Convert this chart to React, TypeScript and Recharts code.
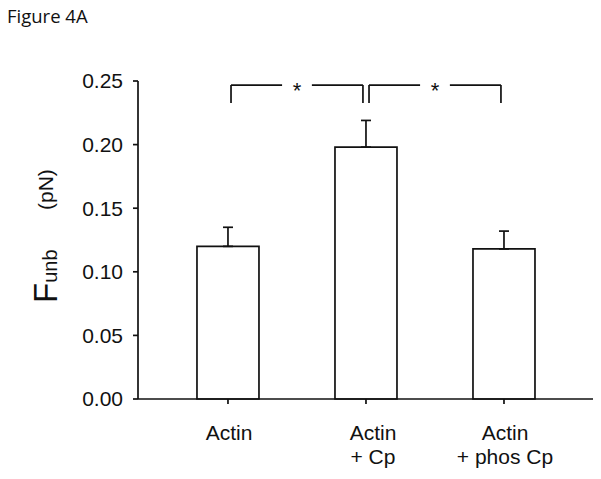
import React from 'react';
import {
  ComposedChart,
  Bar,
  XAxis,
  YAxis,
  ErrorBar,
  ReferenceLine,
  ReferenceDot,
} from 'recharts';

// ---- data ----
const categories = ['Actin', 'Actin\n+ Cp', 'Actin\n+ phos Cp'];
const positions = [1, 2, 3];
const meanValues = [0.12, 0.198, 0.118];
const errorValues = [0.015, 0.021, 0.014];
const yTicks = [0, 0.05, 0.1, 0.15, 0.2, 0.25];
// significance comparisons (by category position)
const sigPairs: [number, number][] = [
  [1, 2],
  [2, 3],
];
const sigLabels = ['*', '*'];
const bracketTop = 0.2468;
const bracketBottom = 0.2327;

const data = positions.map((p, i) => ({
  x: p,
  name: categories[i],
  value: meanValues[i],
  err: [0, errorValues[i]],
}));

const AXIS_FONT = '"Liberation Sans", Arial, sans-serif';
const SW = 1.7;

const XTick = (props: any) => {
  const { x, y, payload } = props;
  const idx = positions.indexOf(payload.value);
  const label = idx >= 0 ? categories[idx] : '';
  const lines = label.split('\n');
  const shift = idx === 1 ? 7 : 1;
  return (
    <g>
      {lines.map((ln, i) => (
        <text
          key={i}
          x={x + shift}
          y={y + 34 + i * 24}
          textAnchor="middle"
          fontFamily={AXIS_FONT}
          fontSize={21}
          fill="#111"
        >
          {ln}
        </text>
      ))}
    </g>
  );
};

const Star = (label: string) => (props: any) => {
  const { cx, cy } = props;
  return (
    <text
      x={cx}
      y={cy + 13}
      textAnchor="middle"
      fontFamily={AXIS_FONT}
      fontSize={22}
      fill="#111"
    >
      {label}
    </text>
  );
};

export default function App() {
  const off = 0.022;
  const gap = 0.108;
  const lineProps = {
    stroke: '#111',
    strokeWidth: SW,
    ifOverflow: 'visible' as const,
  };
  return (
    <div style={{ position: 'absolute', left: 0, top: 0, width: 601, height: 479, background: '#fff' }}>
      <ComposedChart
        width={601}
        height={479}
        data={data}
        margin={{ top: 81, right: 8, bottom: 0, left: 0 }}
      >
        <XAxis
          type="number"
          dataKey="x"
          domain={[0.348, 3.645]}
          ticks={positions}
          allowDataOverflow
          height={80}
          tickSize={5}
          tick={<XTick />}
          axisLine={{ stroke: '#111', strokeWidth: SW }}
          tickLine={{ stroke: '#111', strokeWidth: SW }}
        />
        <YAxis
          type="number"
          domain={[0, 0.25]}
          ticks={yTicks}
          width={138}
          tickSize={5}
          tickMargin={10}
          tickFormatter={(v: number) => v.toFixed(2)}
          tick={{ fontFamily: AXIS_FONT, fontSize: 21, fill: '#111' }}
          axisLine={{ stroke: '#111', strokeWidth: SW }}
          tickLine={{ stroke: '#111', strokeWidth: SW }}
        />
        <Bar
          dataKey="value"
          barSize={62}
          fill="#fff"
          stroke="#111"
          strokeWidth={SW}
          isAnimationActive={false}
        >
          <ErrorBar
            dataKey="err"
            direction="y"
            width={5}
            stroke="#111"
            strokeWidth={SW}
            isAnimationActive={false}
          />
        </Bar>
        {sigPairs.map(([a, b], i) => {
          const l = a + off;
          const r = b - off;
          const m = (a + b) / 2;
          return (
            <React.Fragment key={i}>
              <ReferenceLine
                {...lineProps}
                segment={[
                  { x: l, y: bracketBottom },
                  { x: l, y: bracketTop },
                ]}
              />
              <ReferenceLine
                {...lineProps}
                segment={[
                  { x: l, y: bracketTop },
                  { x: m - gap, y: bracketTop },
                ]}
              />
              <ReferenceLine
                {...lineProps}
                segment={[
                  { x: m + gap, y: bracketTop },
                  { x: r, y: bracketTop },
                ]}
              />
              <ReferenceLine
                {...lineProps}
                segment={[
                  { x: r, y: bracketTop },
                  { x: r, y: bracketBottom },
                ]}
              />
              <ReferenceDot
                x={m}
                y={bracketTop}
                ifOverflow="visible"
                shape={Star(sigLabels[i])}
              />
            </React.Fragment>
          );
        })}
      </ComposedChart>
      <svg
        width={601}
        height={479}
        style={{ position: 'absolute', left: 0, top: 0, pointerEvents: 'none' }}
      >
        <text x={7} y={23} fontFamily='"Open Sans", sans-serif' fontSize={18.5} fill="#111">
          Figure 4A
        </text>
        <text
          transform="translate(57,303) rotate(-90)"
          fontFamily={AXIS_FONT}
          fill="#111"
        >
          <tspan fontSize={33}>F</tspan>
          <tspan fontSize={20}>unb</tspan>
        </text>
        <text
          transform="translate(53,210) rotate(-90)"
          fontFamily={AXIS_FONT}
          fontSize={21}
          fill="#111"
        >
          (pN)
        </text>
      </svg>
    </div>
  );
}
